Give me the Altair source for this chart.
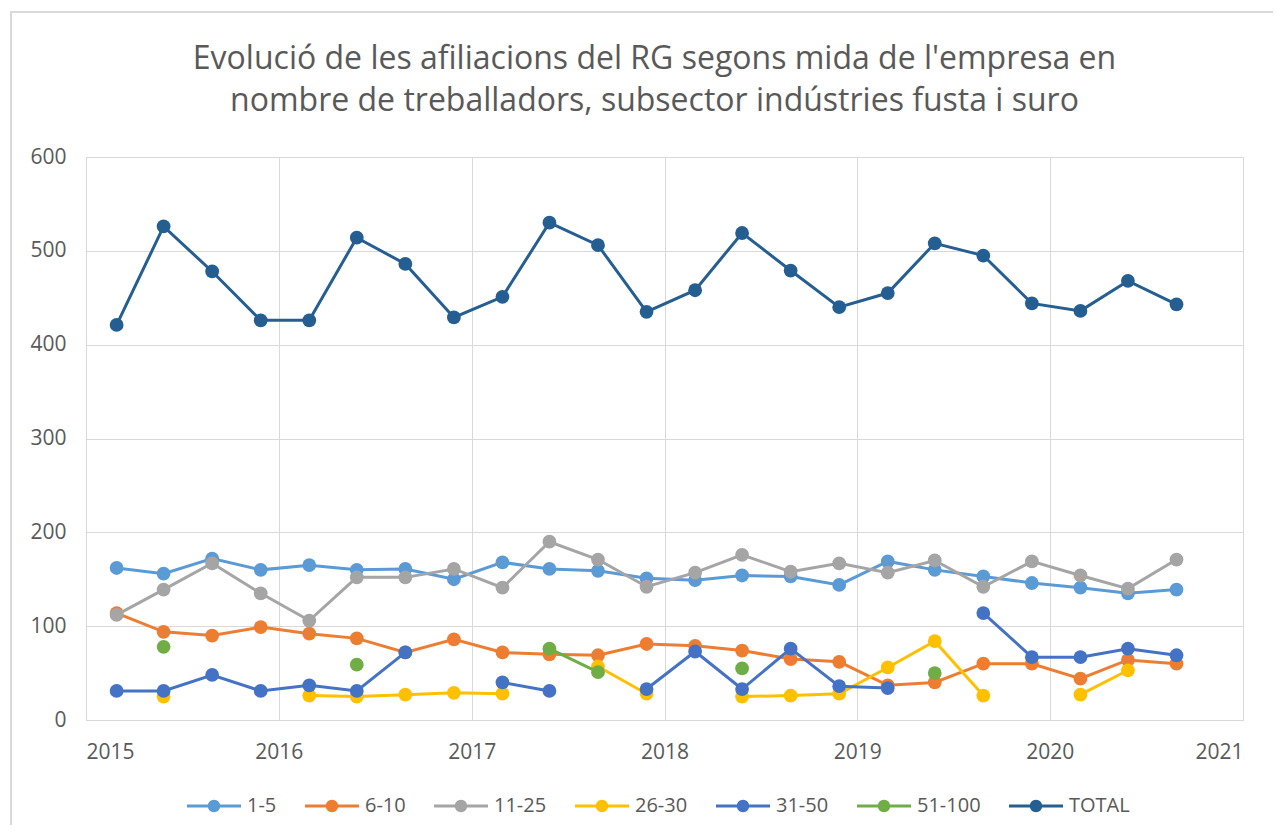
import altair as alt
import pandas as pd

# Dates of each quarterly observation
fechas = [
    "2015-02-28", "2015-05-28", "2015-08-28", "2015-11-28",
    "2016-02-28", "2016-05-28", "2016-08-28", "2016-11-28",
    "2017-02-28", "2017-05-28", "2017-08-28", "2017-11-28",
    "2018-02-28", "2018-05-28", "2018-08-28", "2018-11-28",
    "2019-02-28", "2019-05-28", "2019-08-28", "2019-11-28",
    "2020-02-28", "2020-05-28", "2020-08-28",
]

series = ["1-5", "6-10", "11-25", "26-30", "31-50", "51-100", "TOTAL"]
colores = ["#5B9BD5", "#ED7D31", "#A5A5A5", "#FFC000", "#4472C4", "#70AD47", "#255E91"]

v_1_5 = [162, 156, 172, 160, 165, 160, 161, 150, 168, 161, 159, 151,
         149, 154, 153, 144, 169, 160, 153, 146, 141, 135, 139]
v_6_10 = [114, 94, 90, 99, 92, 87, 72, 86, 72, 70, 69, 81,
          79, 74, 65, 62, 37, 40, 60, 60, 44, 64, 60]
v_11_25 = [112, 139, 167, 135, 106, 152, 152, 161, 141, 190, 171, 142,
           157, 176, 158, 167, 157, 170, 142, 169, 154, 140, 171]
v_26_30 = [None, 25, None, None, 26, 25, 27, 29, 28, None, 57, 28,
           None, 25, 26, 28, 56, 84, 26, None, 27, 53, None]
v_31_50 = [31, 31, 48, 31, 37, 31, 72, None, 40, 31, None, 33,
           73, 33, 76, 36, 34, None, 114, 67, 67, 76, 69]
v_51_100 = [None, 78, None, None, None, 59, None, None, None, 76, 51, None,
            None, 55, None, None, None, 50, None, None, None, None, None]
v_total = [421, 526, 478, 426, 426, 514, 486, 429, 451, 530, 506, 435,
           458, 519, 479, 440, 455, 508, 495, 444, 436, 468, 443]

valores = {
    "1-5": v_1_5, "6-10": v_6_10, "11-25": v_11_25, "26-30": v_26_30,
    "31-50": v_31_50, "51-100": v_51_100, "TOTAL": v_total,
}

rows = []
for s in series:
    for f, v in zip(fechas, valores[s]):
        rows.append({"fecha": f, "serie": s, "valor": v})
df = pd.DataFrame(rows)

FONT = "Open Sans"
GREY_TXT = "#595959"
GRID = "#D9D9D9"

cscale = alt.Scale(domain=series, range=colores)

x_enc = alt.X(
    "fecha:T",
    scale=alt.Scale(
        type="utc",
        domain=[alt.DateTime(year=2015, month=1, date=1, utc=True),
                alt.DateTime(year=2021, month=1, date=1, utc=True)],
    ),
    axis=alt.Axis(
        title=None, format="%Y", tickCount="year", grid=True, gridColor=GRID,
        domain=True, domainColor=GRID, ticks=False, labelFont=FONT,
        labelFontSize=21, labelColor=GREY_TXT, labelPadding=21,
    ),
)
y_enc = alt.Y(
    "valor:Q",
    scale=alt.Scale(domain=[0, 600], nice=False),
    axis=alt.Axis(
        title=None, values=[0, 100, 200, 300, 400, 500, 600], grid=True,
        gridColor=GRID, domain=False, ticks=False, labelFont=FONT,
        labelFontSize=21, labelColor=GREY_TXT, labelPadding=20,
    ),
)

sym_path = ("M-1,-0.056L-0.2,-0.056L-0.2,0.056L-1,0.056Z "
            "M0.2,-0.056L1,-0.056L1,0.056L0.2,0.056Z "
            "M0.23,0A0.23,0.23 0 1,1 -0.23,0A0.23,0.23 0 1,1 0.23,0Z")

leyenda = alt.Legend(
    title=None, orient="none", legendX=101, legendY=622, direction="horizontal",
    columns=7, symbolType=sym_path, symbolSize=2916, symbolStrokeWidth=0,
    symbolOpacity=1, labelFont=FONT, labelFontSize=20, labelColor=GREY_TXT,
    labelOffset=6, columnPadding=28, padding=0,
)

borde = alt.Chart(pd.DataFrame({"k": [0]})).mark_rect(
    fillOpacity=0, stroke=GRID, strokeWidth=2
).encode(
    x=alt.value(-75), x2=alt.value(1250), y=alt.value(-145), y2=alt.value(720)
)

layers = [borde]
base = alt.Chart(df)
for s in series:
    d = base.transform_filter(alt.datum.serie == s)
    puntos = d.mark_circle(size=190, opacity=1).encode(
        x=x_enc, y=y_enc,
        color=alt.Color("serie:N", scale=cscale, legend=leyenda),
    )
    linea = d.mark_line(strokeWidth=3, invalid="break-paths-filter-domains").encode(
        x=x_enc, y=y_enc,
        color=alt.Color("serie:N", scale=cscale, legend=leyenda),
    )
    layers += [puntos, linea]

chart = alt.layer(*layers).properties(
    width=1157,
    height=563,
    autosize=alt.AutoSizeParams(type="none"),
    padding={"left": 78, "top": 149, "right": 30, "bottom": 105},
    title=alt.Title(
        ["Evolució de les afiliacions del RG segons mida de l'empresa en",
         "nombre de treballadors, subsector indústries fusta i suro"],
        font=FONT, fontSize=32, fontWeight="normal", color=GREY_TXT,
        lineHeight=42, anchor="middle", frame="group", offset=-107, dx=-10,
    ),
).configure_view(stroke=GRID).configure(background="white")

chart.save("out.html", embed_options={"renderer": "svg", "actions": False})
